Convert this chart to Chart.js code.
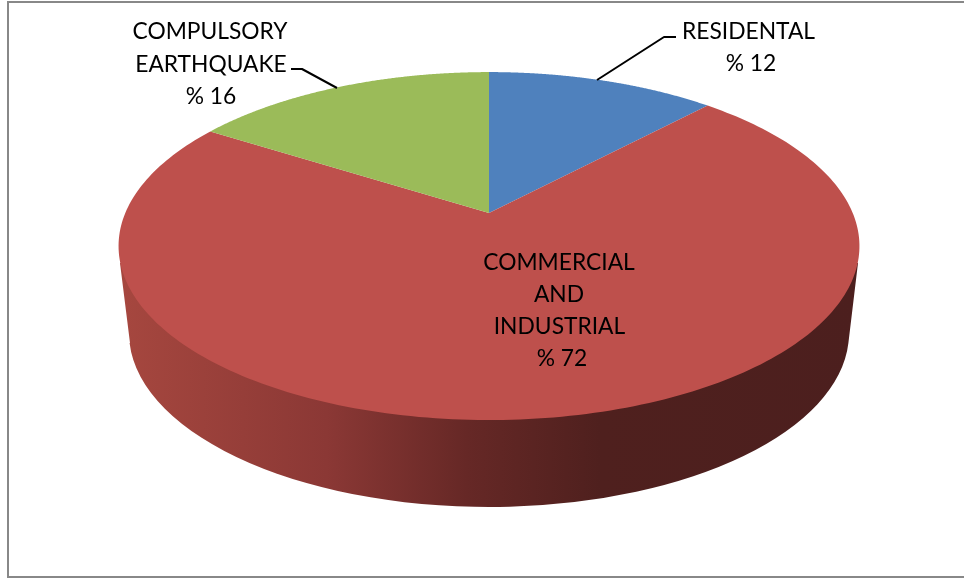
<!DOCTYPE html>
<html><head><meta charset="utf-8">
<style>html,body{margin:0;padding:0;background:#fff;overflow:hidden}canvas{display:block}</style>
<script src="https://cdn.jsdelivr.net/npm/chart.js@4/dist/chart.umd.js"></script>
</head><body><canvas id="c" width="964" height="578"></canvas>
<script>
const categories = ["RESIDENTAL", "COMMERCIAL AND INDUSTRIAL", "COMPULSORY EARTHQUAKE"];
const values = [12, 72, 16];
const colors = ["#4F81BD", "#BE504C", "#9BBB59"];
const labelLines = [["RESIDENTAL", "% 12"], ["COMMERCIAL", "AND", "INDUSTRIAL", "% 72"], ["COMPULSORY", "EARTHQUAKE", "% 16"]];

const FONT = '22.8px Lato';
const labelPos = [[[748.5, 32], [751, 64]], [[559, 263], [559, 295], [559.5, 327], [562, 359]], [[210, 32], [211, 64.5], [211, 97]]];
const leaders = [[[597,80],[664,37],[676,37]], null, [[337,88],[302,69],[291,69]]];
const CX = 489, APEX_Y = 213, K = -0.19, RX = 363.7, RY = 167.7;
const project = a => {
  const u = Math.cos(a), v = Math.sin(a), w = 1 + K * v;
  return [CX + RX * u / w, APEX_Y + RY * v / w];
};

const pie3d = {
  id: 'pie3d',
  beforeDatasetDraw(chart, args) {
    const ctx = chart.ctx, arcs = args.meta.data;
    ctx.save();
    // frame
    ctx.strokeStyle = '#888888'; ctx.lineWidth = 2;
    ctx.strokeRect(8, 2, 1000, 575);
    // extruded side
    const g = ctx.createLinearGradient(120, 0, 858, 0);
    [[0,'#A6473F'],[0.28,'#8B3835'],[0.47,'#662826'],[0.65,'#4F201E'],[1,'#4C1F1E']].forEach(s => g.addColorStop(s[0], s[1]));
    ctx.fillStyle = g;
    ctx.beginPath();
    ctx.moveTo(120, 263);
    ctx.lineTo(130, 343);
    ctx.ellipse(CX, 333, 360, 174, 0, Math.PI - 0.0575, 0.0575, true);
    ctx.lineTo(858, 263);
    ctx.closePath();
    ctx.fill();
    // top face: slices from the controller's computed angles
    arcs.forEach((arc, i) => {
      const p = arc.getProps(['startAngle', 'endAngle'], true);
      ctx.beginPath();
      ctx.moveTo(CX, APEX_Y);
      const n = 240;
      for (let k = 0; k <= n; k++) {
        const pt = project(p.startAngle + (p.endAngle - p.startAngle) * k / n);
        ctx.lineTo(pt[0], pt[1]);
      }
      ctx.closePath();
      ctx.fillStyle = colors[i];
      ctx.fill();
    });
    // leaders
    ctx.strokeStyle = '#000'; ctx.lineWidth = 2; ctx.lineJoin = 'round';
    leaders.forEach(l => {
      if (!l) return;
      ctx.beginPath();
      l.forEach((pt, j) => j ? ctx.lineTo(pt[0], pt[1]) : ctx.moveTo(pt[0], pt[1]));
      ctx.stroke();
    });
    // labels
    ctx.fillStyle = '#000'; ctx.font = FONT;
    ctx.textAlign = 'center'; ctx.textBaseline = 'middle';
    labelLines.forEach((lines, i) => {
      lines.forEach((t, j) => ctx.fillText(t, labelPos[i][j][0], labelPos[i][j][1]));
    });
    ctx.restore();
    return false;
  }
};

new Chart(document.getElementById('c'), {
  type: 'pie',
  data: { labels: categories, datasets: [{ data: values, backgroundColor: colors, borderWidth: 0 }] },
  options: {
    responsive: false, animation: false,
    plugins: { legend: { display: false }, tooltip: { enabled: false } }
  },
  plugins: [pie3d]
});
</script></body></html>
